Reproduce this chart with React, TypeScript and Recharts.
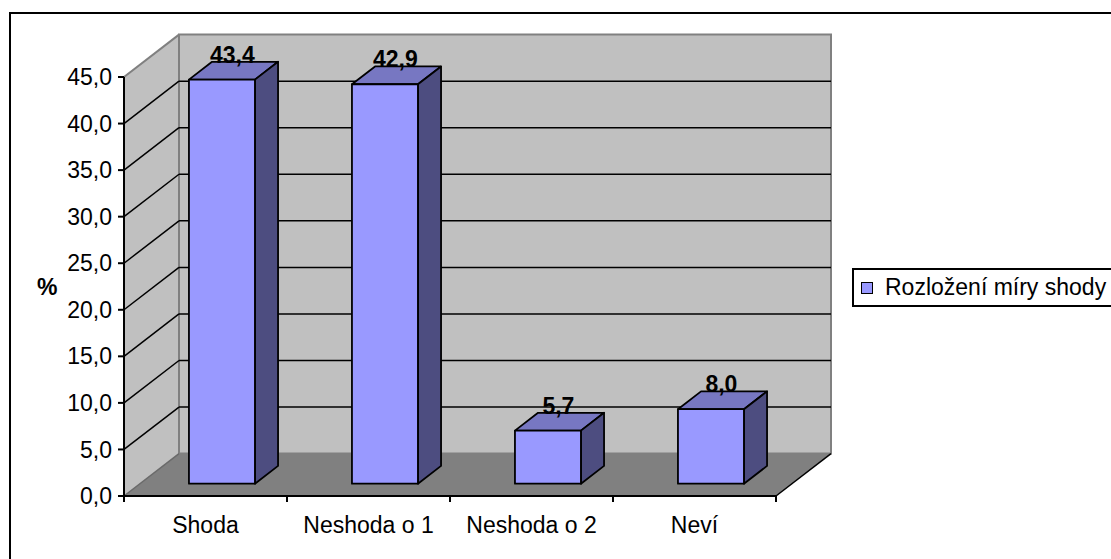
import React from "react"
import { BarChart, Bar, XAxis, YAxis, CartesianGrid, LabelList, Legend } from "recharts"

const categories = ["Shoda", "Neshoda o 1", "Neshoda o 2", "Neví"]
const values = [43.4, 42.9, 5.7, 8.0]
const yTicks = [0, 5, 10, 15, 20, 25, 30, 35, 40, 45]
const seriesName = "Rozložení míry shody"

const data = categories.map((name, i) => ({ name, value: values[i] }))

// fake 3D depth (back wall offset) and where the boxes sit in it
const DX = 55
const DY = -42.4
const T1 = 0.29
const T2 = 0.71

const W = 1111
const H = 559
const PLOT = { left: 124, top: 77, width: 652, height: 419 }

const FONT = "'Liberation Sans', Arial, Helvetica, sans-serif"
const FS = 23
const fmt = (v: number) => v.toFixed(1).replace(".", ",")

function gridLine(props: any) {
  const x = props.x ?? PLOT.left
  const y = props.y ?? PLOT.top
  const width = props.width ?? PLOT.width
  const height = props.height ?? PLOT.height
  const bottom = y + height
  const { y1, index } = props
  const isTop = Math.abs(y1 - y) < 0.5
  const isBottom = Math.abs(y1 - bottom) < 0.5
  return (
    <g key={`gl-${index}`}>
      {index === 0 && (
        <g>
          <polygon
            points={`${x},${y} ${x + DX},${y + DY} ${x + DX},${bottom + DY} ${x},${bottom}`}
            fill="#C0C0C0"
          />
          <polygon
            points={`${x + DX},${y + DY} ${x + width + DX},${y + DY} ${x + width + DX},${bottom + DY} ${x + DX},${bottom + DY}`}
            fill="#C0C0C0"
            stroke="#808080"
            strokeWidth={2}
          />
          <polygon
            points={`${x},${bottom} ${x + width},${bottom} ${x + width + DX},${bottom + DY} ${x + DX},${bottom + DY}`}
            fill="#808080"
          />
          <line x1={x} y1={bottom} x2={x + DX} y2={bottom + DY} stroke="#6a6a6a" strokeWidth={1.5} />
          <line x1={x + width} y1={bottom} x2={x + width + DX} y2={bottom + DY} stroke="#000" strokeWidth={1.5} />
          <line x1={x} y1={y} x2={x + DX} y2={y + DY} stroke="#808080" strokeWidth={2} />
        </g>
      )}
      {!isTop && !isBottom && (
        <g>
          <line x1={x} y1={y1} x2={x + DX} y2={y1 + DY} stroke="#000" strokeWidth={1.5} />
          <line x1={x + DX} y1={y1 + DY} x2={x + width + DX} y2={y1 + DY} stroke="#000" strokeWidth={1.5} />
        </g>
      )}
    </g>
  )
}

function Box3D(props: any) {
  const { x, y, width, height } = props
  if (width == null || height == null) return null
  const ax = x + DX * T1
  const ay = y + DY * T1
  const bx = DX * (T2 - T1)
  const by = DY * (T2 - T1)
  const r = ax + width
  const b = ay + height
  return (
    <g stroke="#000" strokeWidth={1.8} strokeLinejoin="round">
      <polygon points={`${ax},${ay} ${r},${ay} ${r + bx},${ay + by} ${ax + bx},${ay + by}`} fill="#7777C2" />
      <polygon points={`${r},${ay} ${r + bx},${ay + by} ${r + bx},${b + by} ${r},${b}`} fill="#4D4D80" />
      <rect x={ax} y={ay} width={width} height={height} fill="#9999FF" />
    </g>
  )
}

function ValueLabel(props: any) {
  const { x, y, width, value } = props
  return (
    <text
      x={x + width / 2 + DX * 0.48}
      y={y + DY * T2 + 1}
      textAnchor="middle"
      fontFamily={FONT}
      fontSize={FS}
      fontWeight="bold"
      fill="#000"
    >
      {fmt(value)}
    </text>
  )
}

function XTick(props: any) {
  const { x, payload, index } = props
  const band = PLOT.width / categories.length
  const axisY = PLOT.top + PLOT.height
  const left = x - band / 2
  const last = index === categories.length - 1
  return (
    <g>
      <line x1={left} y1={axisY} x2={left} y2={axisY + 6} stroke="#000" strokeWidth={2} />
      {last && <line x1={x + band / 2} y1={axisY} x2={x + band / 2} y2={axisY + 6} stroke="#000" strokeWidth={2} />}
      <text x={x} y={axisY + 37} textAnchor="middle" fontFamily={FONT} fontSize={FS} fill="#000">
        {payload.value}
      </text>
    </g>
  )
}

function LegendBox() {
  return (
    <div
      style={{
        position: "relative",
        width: 290,
        height: 39,
        border: "2px solid #000",
        boxSizing: "border-box",
        background: "#fff",
        fontFamily: FONT,
      }}
    >
      <div
        style={{
          position: "absolute",
          left: 7,
          top: 12,
          width: 12,
          height: 12,
          boxSizing: "border-box",
          border: "1.5px solid #000",
          background: "#9999FF",
        }}
      />
      <div
        style={{
          position: "absolute",
          left: 31,
          top: 0,
          lineHeight: "35px",
          fontSize: FS,
          color: "#000",
          whiteSpace: "nowrap",
        }}
      >
        {seriesName}
      </div>
    </div>
  )
}

export default function App() {
  return (
    <div
      style={{
        position: "absolute",
        left: 0,
        top: 0,
        width: W,
        height: H,
        overflow: "hidden",
        background: "#fff",
        fontFamily: FONT,
      }}
    >
      <div
        style={{
          position: "absolute",
          left: 9,
          top: 12,
          width: 1200,
          height: 700,
          border: "2px solid #000",
          boxSizing: "border-box",
        }}
      />
      <div style={{ position: "absolute", left: 0, top: 0 }}>
        <BarChart
          width={W}
          height={H}
          data={data}
          margin={{ top: PLOT.top, right: W - PLOT.left - PLOT.width, bottom: 23, left: 14 }}
        >
          <CartesianGrid horizontal={gridLine} vertical={false} />
          <XAxis
            dataKey="name"
            height={40}
            axisLine={{ stroke: "#000", strokeWidth: 2 }}
            tickLine={false}
            tick={XTick}
            interval={0}
          />
          <YAxis
            width={110}
            domain={[0, 45]}
            ticks={yTicks}
            tickFormatter={fmt}
            interval={0}
            tickSize={6}
            tickMargin={6}
            axisLine={{ stroke: "#000", strokeWidth: 2 }}
            tickLine={{ stroke: "#000", strokeWidth: 2 }}
            tick={{ fill: "#000", fontSize: FS, fontFamily: FONT }}
            label={{
              value: "%",
              position: "insideLeft",
              offset: 23,
              style: { fontWeight: "bold", fontSize: FS, fill: "#000", fontFamily: FONT },
            }}
          />
          <Legend
            layout="horizontal"
            verticalAlign="middle"
            align="center"
            content={LegendBox}
            wrapperStyle={{ left: 852, top: 268, width: 290, height: 39 }}
          />
          <Bar dataKey="value" name={seriesName} barSize={66} shape={Box3D} isAnimationActive={false}>
            <LabelList dataKey="value" content={ValueLabel} />
          </Bar>
        </BarChart>
      </div>
    </div>
  )
}
